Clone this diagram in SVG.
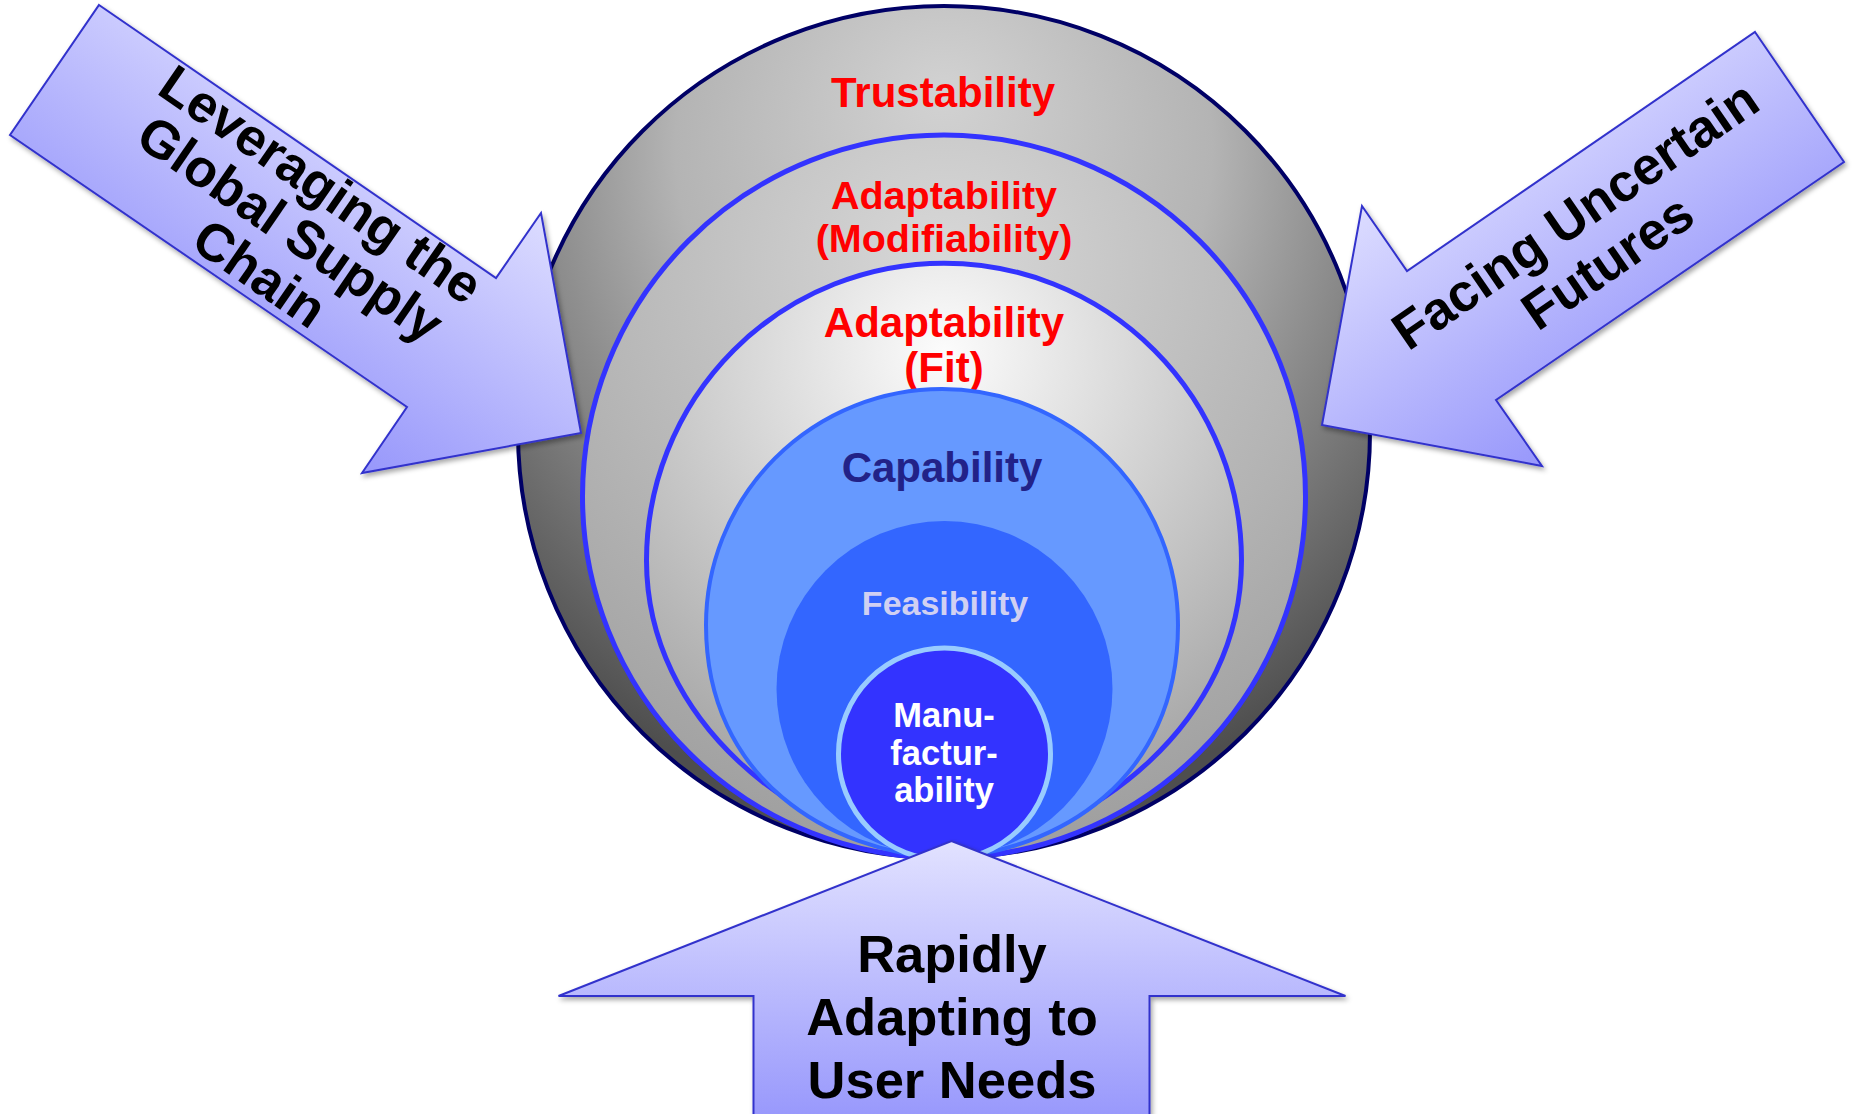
<svg xmlns="http://www.w3.org/2000/svg" width="1854" height="1114" viewBox="0 0 1854 1114">
<style>
  text { font-family: "Liberation Sans", Arial, sans-serif; font-weight: bold; text-anchor: middle; }
  .red { fill: #ff0000; }
  .arrow { stroke: #3333cc; stroke-width: 2; stroke-linejoin: miter; filter: url(#shadow); }
  .atext { fill: #000000; font-size: 52.5px; }
  .rtext { fill: #000000; font-size: 53px; }
  .ring { stroke: #3333ff; stroke-width: 5; }
</style>
<defs>
  <radialGradient id="gOuter" cx="50%" cy="25%" r="70%" fx="50%" fy="10%">
    <stop offset="0" stop-color="#d2d2d2"/>
    <stop offset="0.45" stop-color="#b4b4b4"/>
    <stop offset="1" stop-color="#4e4e4e"/>
  </radialGradient>
  <radialGradient id="gRing2" cx="50%" cy="18%" r="90%">
    <stop offset="0" stop-color="#d8d8d8"/>
    <stop offset="1" stop-color="#999999"/>
  </radialGradient>
  <radialGradient id="gRing3" cx="50%" cy="15%" r="90%">
    <stop offset="0" stop-color="#fcfcfc"/>
    <stop offset="1" stop-color="#999999"/>
  </radialGradient>
  <linearGradient id="gLeft" gradientUnits="userSpaceOnUse" x1="541" y1="213" x2="362" y2="473">
    <stop offset="0" stop-color="#dcdcff"/>
    <stop offset="1" stop-color="#9797fb"/>
  </linearGradient>
  <linearGradient id="gRight" gradientUnits="userSpaceOnUse" x1="1362" y1="206" x2="1542" y2="466">
    <stop offset="0" stop-color="#dcdcff"/>
    <stop offset="1" stop-color="#9797fb"/>
  </linearGradient>
  <linearGradient id="gBottom" gradientUnits="userSpaceOnUse" x1="0" y1="841" x2="0" y2="1114">
    <stop offset="0" stop-color="#e2e2ff"/>
    <stop offset="1" stop-color="#9999fc"/>
  </linearGradient>
  <filter id="shadow" x="-10%" y="-10%" width="120%" height="120%">
    <feDropShadow dx="2" dy="3" stdDeviation="2.5" flood-color="#000000" flood-opacity="0.35"/>
  </filter>
</defs>

<g id="trustability">
  <circle cx="944" cy="432" r="426" fill="url(#gOuter)" stroke="#000066" stroke-width="4"/>
  <text class="red" x="943" y="107" font-size="42">Trustability</text>
</g>

<g id="adaptability-modifiability">
  <circle class="ring" cx="944" cy="496.5" r="361.5" fill="url(#gRing2)"/>
  <text class="red" x="944" y="209" font-size="39.5">Adaptability</text>
  <text class="red" x="944" y="252" font-size="39.5">(Modifiability)</text>
</g>

<g id="adaptability-fit">
  <path class="ring" fill="url(#gRing3)" d="M646.5,560.5 A297.5,297.5 0 0 1 1241.5,560.5 C1241.5,720.5 1094,838 944,858 C794,838 646.5,720.5 646.5,560.5 Z"/>
  <text class="red" x="944" y="337" font-size="42">Adaptability</text>
  <text class="red" x="944" y="382" font-size="42">(Fit)</text>
</g>

<g id="capability">
  <path fill="#6699ff" stroke="#3366ff" stroke-width="4" d="M706,625 A236,236 0 0 1 1178,625 C1178,780 1058,852 944,858 C830,852 706,780 706,625 Z"/>
  <text x="942" y="482" font-size="42" fill="#222288">Capability</text>
</g>

<g id="feasibility">
  <circle cx="944.5" cy="689" r="168" fill="#3366ff"/>
  <text x="945" y="615" font-size="34" fill="#d0d0f2">Feasibility</text>
</g>

<g id="manufacturability">
  <circle cx="944.5" cy="754" r="106" fill="#3333ff" stroke="#99ccff" stroke-width="5"/>
  <text x="944" y="727" font-size="34.5" fill="#ffffff">Manu-</text>
  <text x="944" y="765" font-size="34.5" fill="#ffffff">factur-</text>
  <text x="944" y="802" font-size="34.5" fill="#ffffff">ability</text>
</g>

<g id="arrow-global-supply-chain">
  <polygon class="arrow" fill="url(#gLeft)" points="99,5 496,278 541,213 581,433 362,473 407,407 10,135"/>
  <g transform="translate(310.6,199.4) rotate(34.5)">
    <text class="rtext" x="0" y="0">Leveraging the</text>
    <text class="rtext" x="0" y="54">Global Supply</text>
    <text class="rtext" x="0" y="108">Chain</text>
  </g>
</g>

<g id="arrow-uncertain-futures">
  <polygon class="arrow" fill="url(#gRight)" points="1755,32 1844,162 1496,400 1542,466 1322,425 1362,206 1407,271"/>
  <g transform="translate(1585.5,230) rotate(-34.5)">
    <text class="rtext" x="0" y="0">Facing Uncertain</text>
    <text class="rtext" x="0" y="57">Futures</text>
  </g>
</g>

<g id="arrow-user-needs">
  <polygon class="arrow" fill="url(#gBottom)" points="951.5,841 1345.5,996 1149.5,996 1149.5,1130 753.5,1130 753.5,996 558.5,996"/>
  <text class="atext" x="952" y="972">Rapidly</text>
  <text class="atext" x="952" y="1035">Adapting to</text>
  <text class="atext" x="952" y="1098">User Needs</text>
</g>

<g id="connectors"/>
</svg>
